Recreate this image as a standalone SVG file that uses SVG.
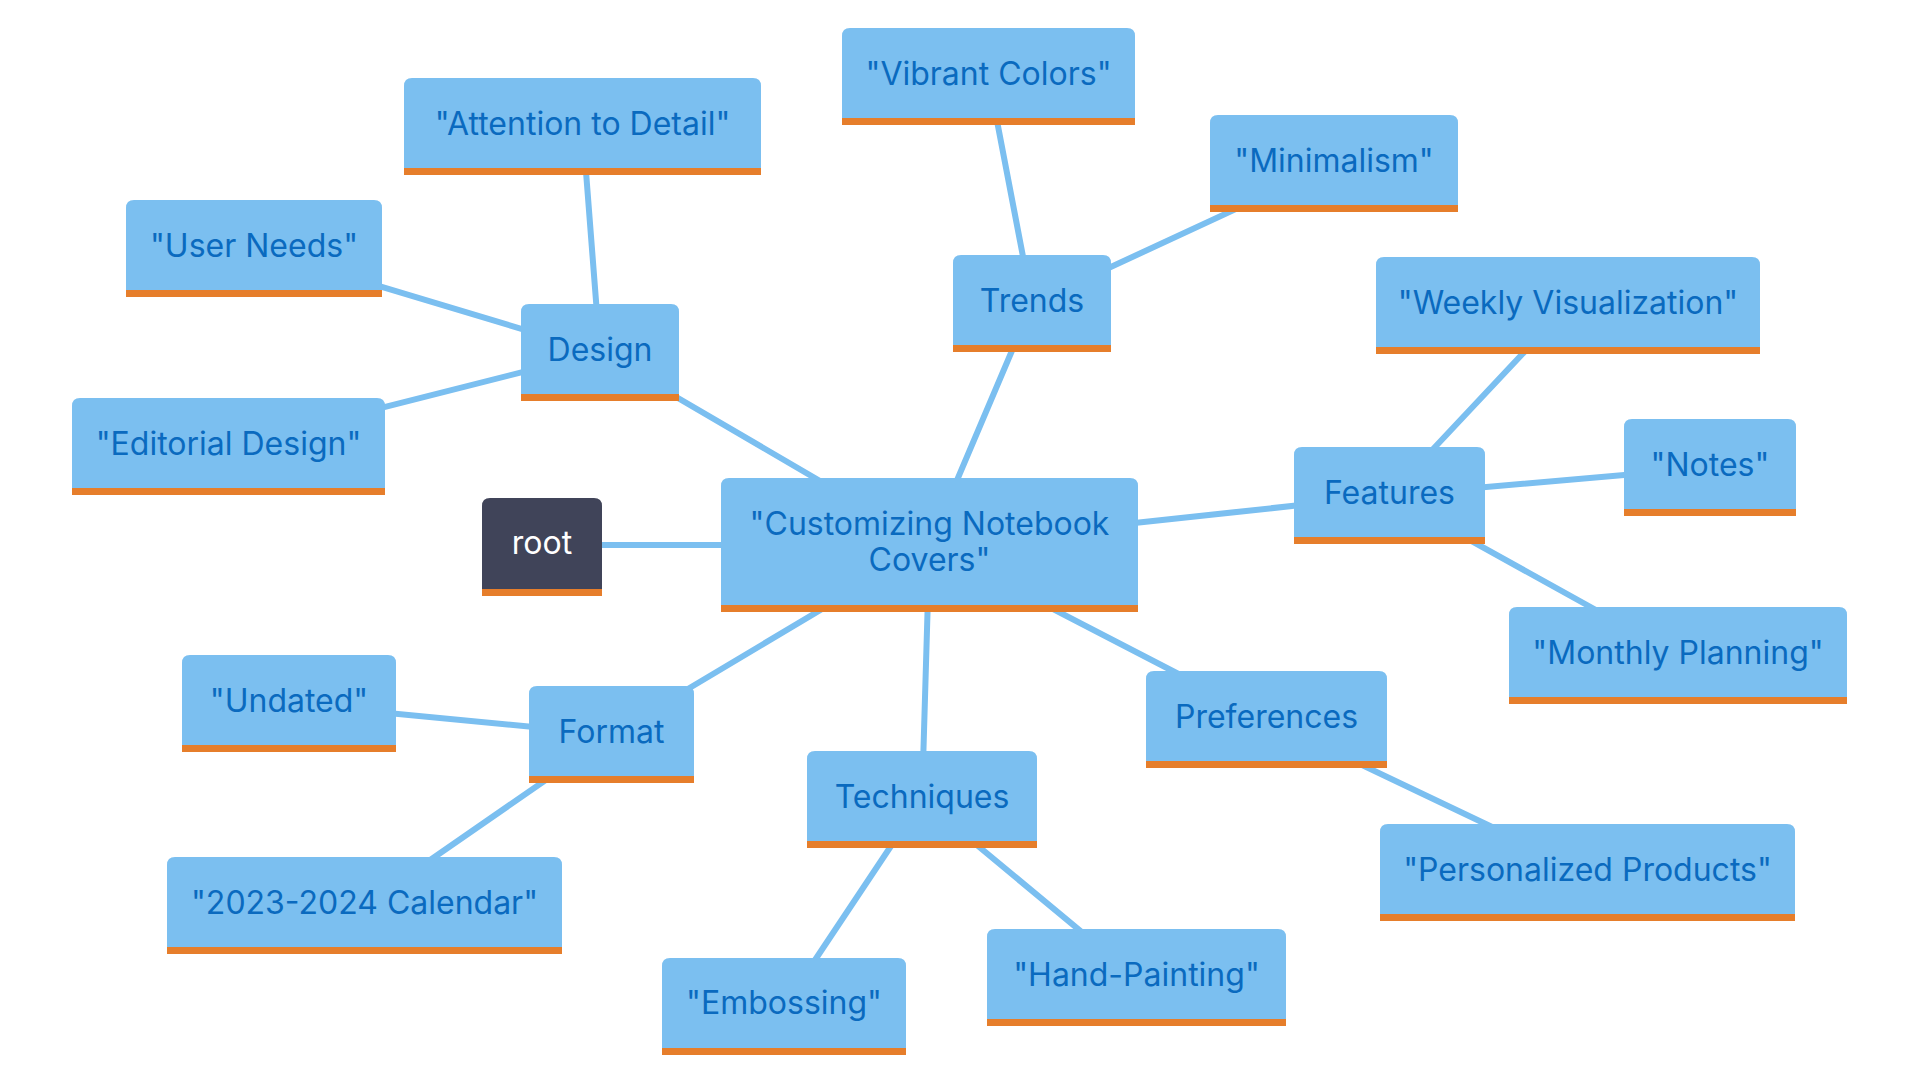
<svg xmlns="http://www.w3.org/2000/svg" width="1920" height="1080" viewBox="0 0 1920 1080">
<style>
.edge{stroke:#7BBFF0;stroke-width:6;fill:none;stroke-linecap:round}
.box{fill:#7BBFF0}
.rootbox{fill:#404459}
.band{fill:#E67E2B}
.lbl{font-family:Inter,"Noto Sans",sans-serif;font-size:32px;fill:#0A6ABF;text-anchor:middle}
.rlbl{font-family:Inter,"Noto Sans",sans-serif;font-size:32px;fill:#FFFFFF;text-anchor:middle}
</style>
<rect width="1920" height="1080" fill="#FFFFFF"/>
<g id="connectors">
<line class="edge" x1="542" y1="545" x2="929.5" y2="545"/>
<line class="edge" x1="929.5" y1="545" x2="600" y2="352.5"/>
<line class="edge" x1="929.5" y1="545" x2="1032" y2="303.5"/>
<line class="edge" x1="929.5" y1="545" x2="1389.5" y2="495.5"/>
<line class="edge" x1="929.5" y1="545" x2="1266.5" y2="719.5"/>
<line class="edge" x1="929.5" y1="545" x2="922" y2="799.5"/>
<line class="edge" x1="929.5" y1="545" x2="611.5" y2="734.5"/>
<line class="edge" x1="600" y1="352.5" x2="582.5" y2="126.5"/>
<line class="edge" x1="600" y1="352.5" x2="254" y2="248.5"/>
<line class="edge" x1="600" y1="352.5" x2="228.5" y2="446.5"/>
<line class="edge" x1="1032" y1="303.5" x2="988.5" y2="76.5"/>
<line class="edge" x1="1032" y1="303.5" x2="1334" y2="163.5"/>
<line class="edge" x1="1389.5" y1="495.5" x2="1568" y2="305.5"/>
<line class="edge" x1="1389.5" y1="495.5" x2="1710" y2="467.5"/>
<line class="edge" x1="1389.5" y1="495.5" x2="1678" y2="655.5"/>
<line class="edge" x1="1266.5" y1="719.5" x2="1587.5" y2="872.5"/>
<line class="edge" x1="922" y1="799.5" x2="784" y2="1006.5"/>
<line class="edge" x1="922" y1="799.5" x2="1136.5" y2="977.5"/>
<line class="edge" x1="611.5" y1="734.5" x2="289" y2="703.5"/>
<line class="edge" x1="611.5" y1="734.5" x2="364.5" y2="905.5"/>
</g>
<g id="root">
<path class="rootbox" d="M482,596 V506 Q482,498 490,498 H594 Q602,498 602,506 V596 Z"/>
<rect class="band" x="482" y="589" width="120" height="7"/>
<text class="rlbl" x="542" y="554">root</text>
</g>
<g id="center">
<path class="box" d="M721,612 V486 Q721,478 729,478 H1130 Q1138,478 1138,486 V612 Z"/>
<rect class="band" x="721" y="605" width="417" height="7"/>
<text class="lbl" x="929.5" y="535">"Customizing Notebook</text>
<text class="lbl" x="929.5" y="571">Covers"</text>
</g>
<g id="design">
<path class="box" d="M521,401 V312 Q521,304 529,304 H671 Q679,304 679,312 V401 Z"/>
<rect class="band" x="521" y="394" width="158" height="7"/>
<text class="lbl" x="600" y="361">Design</text>
</g>
<g id="attention">
<path class="box" d="M404,175 V86 Q404,78 412,78 H753 Q761,78 761,86 V175 Z"/>
<rect class="band" x="404" y="168" width="357" height="7"/>
<text class="lbl" x="582.5" y="135">"Attention to Detail"</text>
</g>
<g id="userneeds">
<path class="box" d="M126,297 V208 Q126,200 134,200 H374 Q382,200 382,208 V297 Z"/>
<rect class="band" x="126" y="290" width="256" height="7"/>
<text class="lbl" x="254" y="257">"User Needs"</text>
</g>
<g id="editorial">
<path class="box" d="M72,495 V406 Q72,398 80,398 H377 Q385,398 385,406 V495 Z"/>
<rect class="band" x="72" y="488" width="313" height="7"/>
<text class="lbl" x="228.5" y="455">"Editorial Design"</text>
</g>
<g id="trends">
<path class="box" d="M953,352 V263 Q953,255 961,255 H1103 Q1111,255 1111,263 V352 Z"/>
<rect class="band" x="953" y="345" width="158" height="7"/>
<text class="lbl" x="1032" y="312">Trends</text>
</g>
<g id="vibrant">
<path class="box" d="M842,125 V36 Q842,28 850,28 H1127 Q1135,28 1135,36 V125 Z"/>
<rect class="band" x="842" y="118" width="293" height="7"/>
<text class="lbl" x="988.5" y="85">"Vibrant Colors"</text>
</g>
<g id="minimalism">
<path class="box" d="M1210,212 V123 Q1210,115 1218,115 H1450 Q1458,115 1458,123 V212 Z"/>
<rect class="band" x="1210" y="205" width="248" height="7"/>
<text class="lbl" x="1334" y="172">"Minimalism"</text>
</g>
<g id="features">
<path class="box" d="M1294,544 V455 Q1294,447 1302,447 H1477 Q1485,447 1485,455 V544 Z"/>
<rect class="band" x="1294" y="537" width="191" height="7"/>
<text class="lbl" x="1389.5" y="504">Features</text>
</g>
<g id="weekly">
<path class="box" d="M1376,354 V265 Q1376,257 1384,257 H1752 Q1760,257 1760,265 V354 Z"/>
<rect class="band" x="1376" y="347" width="384" height="7"/>
<text class="lbl" x="1568" y="314">"Weekly Visualization"</text>
</g>
<g id="notes">
<path class="box" d="M1624,516 V427 Q1624,419 1632,419 H1788 Q1796,419 1796,427 V516 Z"/>
<rect class="band" x="1624" y="509" width="172" height="7"/>
<text class="lbl" x="1710" y="476">"Notes"</text>
</g>
<g id="monthly">
<path class="box" d="M1509,704 V615 Q1509,607 1517,607 H1839 Q1847,607 1847,615 V704 Z"/>
<rect class="band" x="1509" y="697" width="338" height="7"/>
<text class="lbl" x="1678" y="664">"Monthly Planning"</text>
</g>
<g id="preferences">
<path class="box" d="M1146,768 V679 Q1146,671 1154,671 H1379 Q1387,671 1387,679 V768 Z"/>
<rect class="band" x="1146" y="761" width="241" height="7"/>
<text class="lbl" x="1266.5" y="728">Preferences</text>
</g>
<g id="personalized">
<path class="box" d="M1380,921 V832 Q1380,824 1388,824 H1787 Q1795,824 1795,832 V921 Z"/>
<rect class="band" x="1380" y="914" width="415" height="7"/>
<text class="lbl" x="1587.5" y="881">"Personalized Products"</text>
</g>
<g id="techniques">
<path class="box" d="M807,848 V759 Q807,751 815,751 H1029 Q1037,751 1037,759 V848 Z"/>
<rect class="band" x="807" y="841" width="230" height="7"/>
<text class="lbl" x="922" y="808">Techniques</text>
</g>
<g id="embossing">
<path class="box" d="M662,1055 V966 Q662,958 670,958 H898 Q906,958 906,966 V1055 Z"/>
<rect class="band" x="662" y="1048" width="244" height="7"/>
<text class="lbl" x="784" y="1014">"Embossing"</text>
</g>
<g id="handpainting">
<path class="box" d="M987,1026 V937 Q987,929 995,929 H1278 Q1286,929 1286,937 V1026 Z"/>
<rect class="band" x="987" y="1019" width="299" height="7"/>
<text class="lbl" x="1136.5" y="986">"Hand-Painting"</text>
</g>
<g id="format">
<path class="box" d="M529,783 V694 Q529,686 537,686 H686 Q694,686 694,694 V783 Z"/>
<rect class="band" x="529" y="776" width="165" height="7"/>
<text class="lbl" x="611.5" y="743">Format</text>
</g>
<g id="undated">
<path class="box" d="M182,752 V663 Q182,655 190,655 H388 Q396,655 396,663 V752 Z"/>
<rect class="band" x="182" y="745" width="214" height="7"/>
<text class="lbl" x="289" y="712">"Undated"</text>
</g>
<g id="calendar">
<path class="box" d="M167,954 V865 Q167,857 175,857 H554 Q562,857 562,865 V954 Z"/>
<rect class="band" x="167" y="947" width="395" height="7"/>
<text class="lbl" x="364.5" y="914">"2023-2024 Calendar"</text>
</g>
</svg>
